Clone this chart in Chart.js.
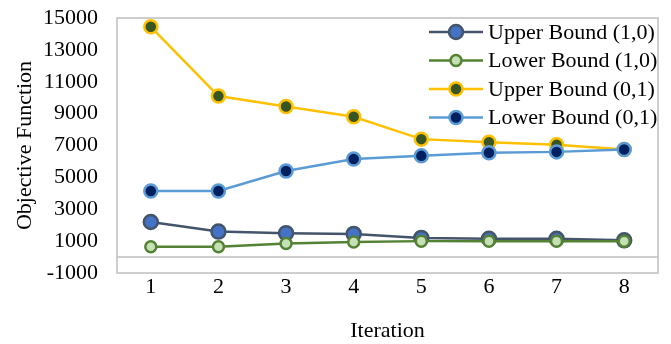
<!DOCTYPE html>
<html>
<head>
<meta charset="utf-8">
<script src="https://cdn.jsdelivr.net/npm/chart.js@4.4.1/dist/chart.umd.min.js"></script>
<style>
  html, body { margin: 0; padding: 0; background: #fff; }
  #wrap { width: 671px; height: 344px; }
</style>
</head>
<body>
<div id="wrap"><canvas id="grafico"></canvas></div>
<script>
// dados
const iteracoes = ['1', '2', '3', '4', '5', '6', '7', '8'];
const upper10 = [2200, 1600, 1500, 1450, 1200, 1150, 1150, 1050];
const lower10 = [650, 650, 850, 950, 1000, 1000, 1000, 1000];
const upper01 = [14450, 10100, 9450, 8800, 7400, 7200, 7050, 6750];
const lower01 = [4150, 4150, 5400, 6150, 6350, 6550, 6600, 6750];

const fonte = 'Liberation Serif, "Times New Roman", serif';
const tamFonte = 22;

// moldura da área do gráfico + linha do zero
const molduraPlugin = {
    id: 'moldura',
    beforeDatasetsDraw(chart) {
        const { ctx, chartArea: a, scales } = chart;
        ctx.save();
        ctx.strokeStyle = '#bfbfbf';
        ctx.lineWidth = 1.5;
        ctx.strokeRect(a.left, a.top, a.right - a.left, a.bottom - a.top);
        const y0 = scales.y.getPixelForValue(0);
        ctx.beginPath();
        ctx.moveTo(a.left, y0);
        ctx.lineTo(a.right, y0);
        ctx.stroke();
        ctx.restore();
    }
};

// legenda estilo Excel (linha + marcador)
const legendaPlugin = {
    id: 'legendaExcel',
    afterDraw(chart) {
        const { ctx } = chart;
        const x0 = 429, x1 = 483, yIni = 32, passo = 28.5;
        ctx.save();
        ctx.font = tamFonte + 'px ' + fonte;
        ctx.textBaseline = 'middle';
        chart.data.datasets.forEach((ds, i) => {
            const y = yIni + i * passo;
            ctx.strokeStyle = ds.borderColor;
            ctx.lineWidth = ds.borderWidth;
            ctx.beginPath();
            ctx.moveTo(x0, y);
            ctx.lineTo(x1, y);
            ctx.stroke();
            ctx.beginPath();
            ctx.arc((x0 + x1) / 2, y, ds.pointRadius, 0, Math.PI * 2);
            ctx.fillStyle = ds.pointBackgroundColor;
            ctx.fill();
            ctx.lineWidth = ds.pointBorderWidth;
            ctx.strokeStyle = ds.pointBorderColor;
            ctx.stroke();
            ctx.fillStyle = '#000';
            ctx.fillText(ds.label, x1 + 5, y + 1);
        });
        ctx.restore();
    }
};

function serie(label, dados, linha, preenchimento, raio, ordem) {
    return {
        label: label,
        data: dados,
        borderColor: linha,
        borderWidth: 2.5,
        pointBackgroundColor: preenchimento,
        pointBorderColor: linha,
        pointBorderWidth: 2.5,
        pointRadius: raio,
        pointHoverRadius: raio,
        tension: 0,
        fill: false,
        order: ordem
    };
}

const ctx = document.getElementById('grafico').getContext('2d');
new Chart(ctx, {
    type: 'line',
    data: {
        labels: iteracoes,
        datasets: [
            serie('Upper Bound (1,0)', upper10, '#44546A', '#4472C4', 7, 4),
            serie('Lower Bound (1,0)', lower10, '#548235', '#C5E0B4', 5.5, 3),
            serie('Upper Bound (0,1)', upper01, '#FFC000', '#375623', 6.5, 2),
            serie('Lower Bound (0,1)', lower01, '#5B9BD5', '#002060', 6.5, 1)
        ]
    },
    options: {
        responsive: true,
        maintainAspectRatio: false,
        animation: false,
        layout: { padding: { top: 18, right: 13, left: 0, bottom: 0 } },
        plugins: {
            legend: { display: false },
            tooltip: { enabled: false }
        },
        scales: {
            x: {
                type: 'category',
                offset: true,
                grid: { display: false, drawTicks: false },
                border: { display: false },
                ticks: { color: '#000', font: { family: fonte, size: tamFonte }, padding: 1 },
                title: {
                    display: true, text: 'Iteration', color: '#000',
                    font: { family: fonte, size: tamFonte }, padding: { top: 0, bottom: 0 }
                },
                afterFit(scale) { scale.height = 71; }
            },
            y: {
                min: -1000,
                max: 15000,
                grid: { display: false, drawTicks: false },
                border: { display: false },
                ticks: {
                    stepSize: 2000, color: '#000', font: { family: fonte, size: tamFonte }, padding: 19,
                    callback: v => String(v)
                },
                title: {
                    display: true, text: 'Objective Function', color: '#000',
                    font: { family: fonte, size: tamFonte }, padding: { top: 12, bottom: 0 }
                },
                afterFit(scale) {
                    scale.width = 117;
                    scale.paddingTop = 0;
                    scale.paddingBottom = 0;
                }
            }
        }
    },
    plugins: [molduraPlugin, legendaPlugin]
});
</script>
</body>
</html>
